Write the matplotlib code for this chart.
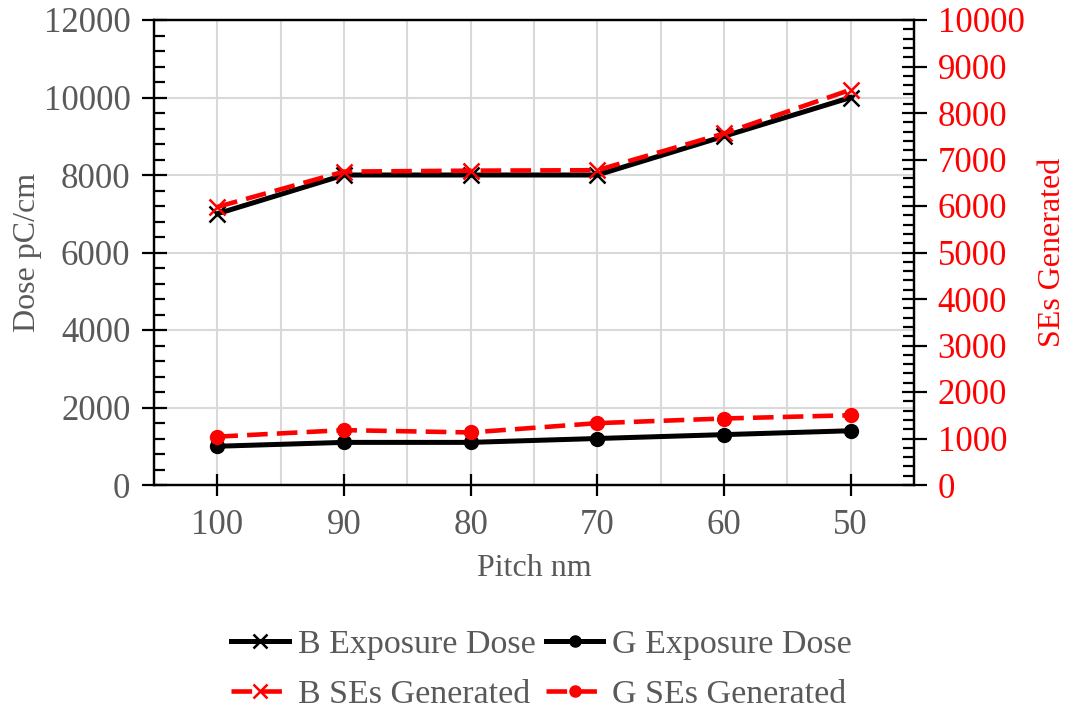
import matplotlib
matplotlib.use("Agg")
import matplotlib.pyplot as plt
from matplotlib.ticker import MultipleLocator, FixedLocator

plt.rcParams['font.family'] = ['Liberation Serif', 'DejaVu Serif']

pitch = ["100", "90", "80", "70", "60", "50"]
b_dose = [7000, 8000, 8000, 8000, 9000, 10000]
g_dose = [1000, 1100, 1100, 1200, 1300, 1400]
b_se = [5980, 6740, 6760, 6770, 7560, 8500]
g_se = [1040, 1180, 1130, 1330, 1430, 1500]

GRAY = "#595959"
RED = "#ff0000"
FS_TICK = 25
FS_LABEL = 23
FS_LEG = 24.5

fig = plt.figure(figsize=(10.68, 7.11), dpi=100)
ax = fig.add_axes([154/1068, 1-485/711, (914-154)/1068, (485-20)/711])
ax2 = ax.twinx()

x = list(range(len(pitch)))

l1, = ax.plot(x, b_dose, color="black", lw=3.6, marker="x", ms=12, mew=1.8,
              label="B Exposure Dose", zorder=3)
l2, = ax.plot(x, g_dose, color="black", lw=3.6, marker="o", ms=10,
              label="G Exposure Dose", zorder=3)
l3, = ax2.plot(x, b_se, color=RED, lw=3.3, ls=(0, (4.5, 2)), marker="x", ms=12, mew=1.8,
               label="B SEs Generated", zorder=4)
l4, = ax2.plot(x, g_se, color=RED, lw=3.3, ls=(0, (4.5, 2)), marker="o", ms=10,
               label="G SEs Generated", zorder=4)

ax.set_xlim(-0.5, len(pitch) - 0.5)
ax.set_ylim(0, 12000)
ax2.set_ylim(0, 10000)

# grid: horizontal at left majors, vertical at categories and boundaries
ax.yaxis.set_major_locator(MultipleLocator(2000))
ax.yaxis.set_minor_locator(MultipleLocator(400))
ax.set_xticks(x)
ax.set_xticklabels(pitch)
ax.xaxis.set_minor_locator(FixedLocator([i + 0.5 for i in range(-1, len(pitch))]))
ax.grid(True, which="major", axis="y", color="#d9d9d9", lw=1.5)
ax.grid(True, which="both", axis="x", color="#d9d9d9", lw=1.5)
ax.set_axisbelow(True)

ax2.yaxis.set_major_locator(MultipleLocator(1000))
ax2.yaxis.set_minor_locator(MultipleLocator(200))

for a in (ax, ax2):
    for s in a.spines.values():
        s.set_color("black")
        s.set_linewidth(1.6)

ax.tick_params(axis="y", which="major", direction="inout", length=18, width=1.6,
               labelsize=FS_TICK, labelcolor=GRAY, pad=8)
ax.tick_params(axis="y", which="minor", direction="in", length=8, width=1.6)
ax.tick_params(axis="x", which="major", direction="inout", length=16, width=1.6,
               labelsize=FS_TICK, labelcolor=GRAY, pad=9)
ax.tick_params(axis="x", which="minor", length=0)
ax2.tick_params(axis="y", which="major", direction="inout", length=18, width=1.6,
                labelsize=FS_TICK, labelcolor=RED, pad=8)
ax2.tick_params(axis="y", which="minor", direction="in", length=8, width=1.6)

ax.set_xlabel("Pitch nm", fontsize=FS_LABEL, color=GRAY, labelpad=9)
ax.set_ylabel("Dose pC/cm", fontsize=FS_LABEL, color=GRAY, labelpad=1)
ax2.set_ylabel("SEs Generated", fontsize=FS_LABEL, color=RED, labelpad=10)

# order so rows read: exposure doses first, SEs second
fig.legend(handles=[l1, l3, l2, l4], loc="center", ncol=2,
           bbox_to_anchor=(0.507, 0.058), frameon=False, fontsize=FS_LEG,
           handlelength=1.7, handletextpad=0.25, columnspacing=0.3,
           labelspacing=0.55, labelcolor=GRAY, markerscale=0.8)

fig.savefig("out.png", dpi=100)
